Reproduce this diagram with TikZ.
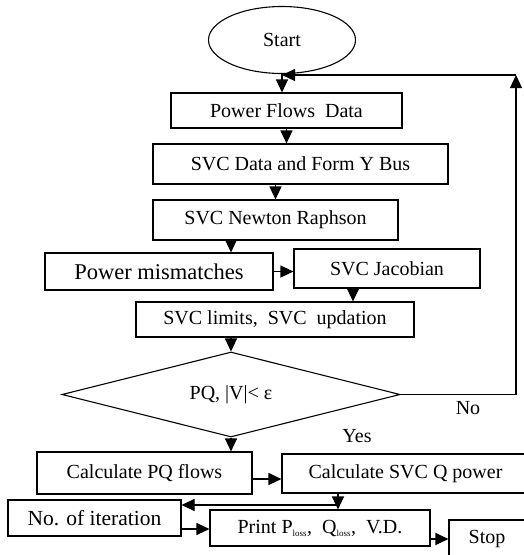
\documentclass[tikz,border=0pt]{standalone}
\usepackage{fontspec}
\setmainfont{Liberation Serif}
\usetikzlibrary{calc,arrows.meta,shapes.geometric}

\begin{document}
\begin{tikzpicture}[x=1pt, y=-1pt, line width=1.1pt, >={Triangle[length=13pt,width=12pt]}, font=\fontsize{20}{24}\selectfont, block/.style={rectangle, draw, inner sep=2pt, align=center}, cond/.style={diamond, draw, aspect=4, inner sep=0pt},]
   \useasboundingbox (0,0) rectangle (524,555);
   \clip (0,0) rectangle (524,555);
   \node[ellipse, draw, minimum width=147pt, minimum height=67pt] (start) at (282,40) {Start};
   \node[block, minimum width=231pt, minimum height=35pt] (pfd) at (286.5,110.5) {Power Flows~~Data};
   \node[block, minimum width=295pt, minimum height=40pt] (svcdata) at (300.5,164) {SVC Data and Form Y Bus};
   \node[block, minimum width=245pt, minimum height=40pt] (newton) at (275.5,220) {SVC Newton Raphson};
   \node[block, minimum width=228pt, minimum height=37pt, font=\fontsize{22.5}{26}\selectfont] (mism) at (159,271.5) {Power mismatches};
   \node[block, minimum width=186pt, minimum height=39pt] (jac) at (387,268.5) {SVC Jacobian};
   \node[block, minimum width=278pt, minimum height=35pt] (limits) at (275,319.5) {SVC limits,~~SVC~~updation};
   \node[cond, minimum width=338pt, minimum height=85pt] (dec) at (231,394.5) {PQ, |V|< ε};
   \node[block, minimum width=215pt, minimum height=42pt] (calcpq) at (144.5,473) {Calculate PQ flows};
   \node[block, minimum width=247pt, minimum height=39pt] (calcq) at (405.5,473.5) {Calculate SVC Q power};
   \node[block, minimum width=173pt, minimum height=36pt, font=\fontsize{21.5}{25}\selectfont] (iter) at (94.5,518) {No. of iteration};
   \node[block, minimum width=220pt, minimum height=36pt] (print) at (320,528) {Print P\textsubscript{\fontsize{9}{9}\selectfont loss}, ~Q\textsubscript{\fontsize{9}{9}\selectfont loss}, ~V.D.};
   \node[block, minimum width=76pt, minimum height=38pt] (stop) at (487,539) {Stop};
   \node (no) at (468,408) {No};
   \node (yes) at (357,436) {Yes};
   \coordinate (fb) at (516,75);
   \coordinate (jn) at (338,505);
   \draw[->] (start.south) -- (start.south |- pfd.north);
   \draw[->] (pfd.south) -- (pfd.south |- svcdata.north);
   \draw[->] (newton.north |- svcdata.south) -- (newton.north);
   \draw[->] (dec.north |- newton.south) -- (dec.north |- mism.north);
   \draw[->] (mism.east) -- (mism.east -| jac.west);
   \draw[->] ([xshift=-34pt]jac.south) -- ([xshift=-34pt]jac.south |- limits.north);
   \draw[->] (dec.north |- limits.south) -- (dec.north);
   \draw[->] (dec.east) -| (fb);
   \draw[->] (fb) -- (start.south |- fb);
   \draw[->] (dec.south) -- (dec.south |- calcpq.north);
   \draw[->] ([yshift=-6pt]calcpq.east) -- ([yshift=-6pt]calcpq.east -| calcq.west);
   \draw[->] (jn |- calcq.south) -- (jn |- print.north);
   \draw[->] (jn) -- (jn -| iter.east);
   \draw[->] ([yshift=-11pt]iter.east) -- ([yshift=-11pt]iter.east -| print.west);
   \draw[->] (stop.west -| print.east) -- (stop.west);
\end{tikzpicture}
\end{document}
